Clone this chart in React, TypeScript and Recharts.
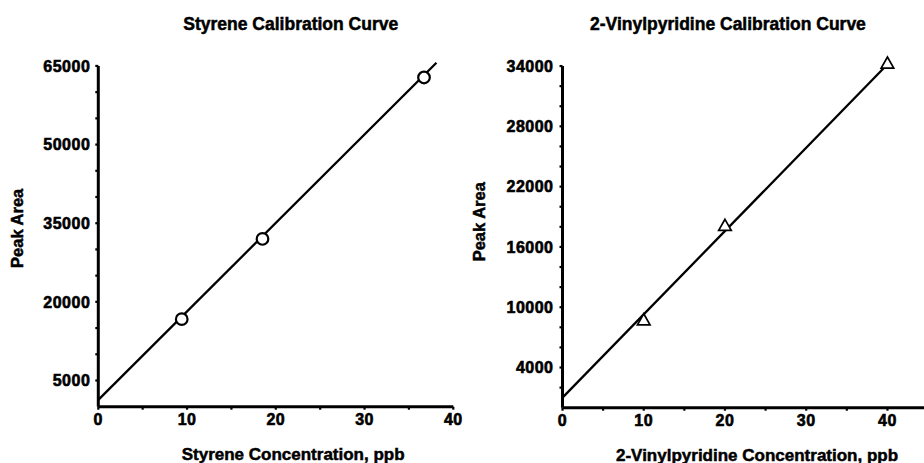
import React from 'react';
import { ComposedChart, Line, Scatter, XAxis, YAxis, ReferenceLine } from 'recharts';

// ---- Styrene calibration ----
const styreneConc = [9.4, 18.5, 36.7];
const styreneArea = [16700, 32000, 62800];
const styreneFitConc = [0, 38.1];
const styreneFitArea = [1300, 65600];
const styreneXTicks = [0, 5, 10, 15, 20, 25, 30, 35, 40];
const styreneXLabels = [0, 10, 20, 30, 40];
const styreneYTicks = [5000, 10000, 15000, 20000, 25000, 30000, 35000, 40000, 45000, 50000, 55000, 60000, 65000];
const styreneYLabels = [5000, 20000, 35000, 50000, 65000];
const styreneYAxisTop = 65000;

// ---- 2-Vinylpyridine calibration ----
const vinylConc = [10, 20, 40];
const vinylArea = [8700, 18100, 34250];
const vinylFitConc = [0, 39.8];
const vinylFitArea = [1000, 34000];
const vinylXTicks = [0, 5, 10, 15, 20, 25, 30, 35, 40];
const vinylXLabels = [0, 10, 20, 30, 40];
const vinylYTicks = [2000, 4000, 6000, 8000, 10000, 12000, 14000, 16000, 18000, 20000, 22000, 24000, 26000, 28000, 30000, 32000, 34000];
const vinylYLabels = [4000, 10000, 16000, 22000, 28000, 34000];
const vinylYAxisTop = 34000;

const FONT = '"Liberation Sans", Arial, Helvetica, sans-serif';

const zip = (xs: number[], ys: number[]) => xs.map((x, i) => ({ x, y: ys[i] }));

const tickStyle = {
  fill: '#000',
  stroke: '#000',
  strokeWidth: 0.6,
  fontFamily: FONT,
  fontWeight: 700,
  fontSize: 16,
  letterSpacing: 0.5,
};
const axisStroke = { stroke: '#000', strokeWidth: 3 };
const tickLineStyle = { stroke: '#000', strokeWidth: 2.2 };

const CircleShape = (props: any) => {
  const { cx, cy } = props;
  if (cx == null || cy == null) return null;
  return <circle cx={cx} cy={cy} r={5.8} fill="#fff" stroke="#000" strokeWidth={2.2} />;
};

const TriangleShape = (props: any) => {
  const { cx, cy } = props;
  if (cx == null || cy == null) return null;
  const pts = `${cx},${cy - 6.5} ${cx + 6.3},${cy + 4.5} ${cx - 6.3},${cy + 4.5}`;
  return <polygon points={pts} fill="#fff" stroke="#000" strokeWidth={1.7} strokeLinejoin="miter" />;
};

const labelFmt = (labels: number[]) => (v: number) => (labels.includes(v) ? String(v) : '');

export default function App() {
  const styrenePts = zip(styreneConc, styreneArea);
  const styreneFit = zip(styreneFitConc, styreneFitArea);
  const vinylPts = zip(vinylConc, vinylArea);
  const vinylFit = zip(vinylFitConc, vinylFitArea);

  return (
    <div style={{ position: 'absolute', left: 0, top: 0, width: 924, height: 463, background: '#fff', overflow: 'hidden' }}>
      <div style={{ position: 'absolute', left: 0, top: 0 }}>
        <ComposedChart width={470} height={463} margin={{ top: 60.7, right: 16.7, bottom: 26.3, left: 0 }}>
          <XAxis
            type="number"
            dataKey="x"
            domain={[0, 40]}
            ticks={styreneXTicks}
            interval={0}
            tickFormatter={labelFmt(styreneXLabels)}
            height={30}
            axisLine={axisStroke}
            tickLine={tickLineStyle}
            tickSize={3}
            tickMargin={4}
            tick={tickStyle}
          />
          <YAxis
            type="number"
            domain={[0, 66000]}
            ticks={styreneYTicks}
            interval={0}
            tickFormatter={labelFmt(styreneYLabels)}
            width={98.3}
            axisLine={false}
            tickLine={tickLineStyle}
            tickSize={3}
            tickMargin={5}
            tick={tickStyle}
          />
          <ReferenceLine
            segment={[{ x: 0, y: 0 }, { x: 0, y: styreneYAxisTop }]}
            stroke="#000"
            strokeWidth={3}
          />
          <Line
            data={styreneFit}
            dataKey="y"
            type="linear"
            stroke="#000"
            strokeWidth={2.3}
            dot={false}
            activeDot={false}
            isAnimationActive={false}
          />
          <Scatter data={styrenePts} dataKey="y" shape={CircleShape} isAnimationActive={false} />
        </ComposedChart>
      </div>

      <div style={{ position: 'absolute', left: 462, top: 0 }}>
        <ComposedChart width={462} height={463} margin={{ top: 56, right: 0, bottom: 25.3, left: 0 }}>
          <XAxis
            type="number"
            dataKey="x"
            domain={[0, 44.5]}
            ticks={vinylXTicks}
            interval={0}
            tickFormatter={labelFmt(vinylXLabels)}
            height={30}
            axisLine={axisStroke}
            tickLine={tickLineStyle}
            tickSize={3}
            tickMargin={4}
            tick={tickStyle}
          />
          <YAxis
            type="number"
            domain={[0, 35000]}
            ticks={vinylYTicks}
            interval={0}
            tickFormatter={labelFmt(vinylYLabels)}
            width={100.5}
            axisLine={false}
            tickLine={tickLineStyle}
            tickSize={3}
            tickMargin={6}
            tick={tickStyle}
          />
          <ReferenceLine
            segment={[{ x: 0, y: 0 }, { x: 0, y: vinylYAxisTop }]}
            stroke="#000"
            strokeWidth={3}
          />
          <Line
            data={vinylFit}
            dataKey="y"
            type="linear"
            stroke="#000"
            strokeWidth={2.3}
            dot={false}
            activeDot={false}
            isAnimationActive={false}
          />
          <Scatter data={vinylPts} dataKey="y" shape={TriangleShape} isAnimationActive={false} />
        </ComposedChart>
      </div>

      <svg width={924} height={463} style={{ position: 'absolute', left: 0, top: 0, pointerEvents: 'none' }}>
        <g fontFamily={FONT} fontWeight={700} fill="#000" stroke="#000" strokeWidth={0.5}>
          <text x={183.3} y={29.5} fontSize={17.5}>Styrene Calibration Curve</text>
          <text x={590} y={29.5} fontSize={17.5}>2-Vinylpyridine Calibration Curve</text>
          <text x={181.7} y={460} fontSize={17}>Styrene Concentration, ppb</text>
          <text x={616} y={460.5} fontSize={17}>2-Vinylpyridine Concentration, ppb</text>
          <text x={23.3} y={228.3} fontSize={16.5} textAnchor="middle" transform="rotate(-90 23.3 228.3)">Peak Area</text>
          <text x={485} y={221.7} fontSize={16.5} textAnchor="middle" transform="rotate(-90 485 221.7)">Peak Area</text>
        </g>
      </svg>
    </div>
  );
}
